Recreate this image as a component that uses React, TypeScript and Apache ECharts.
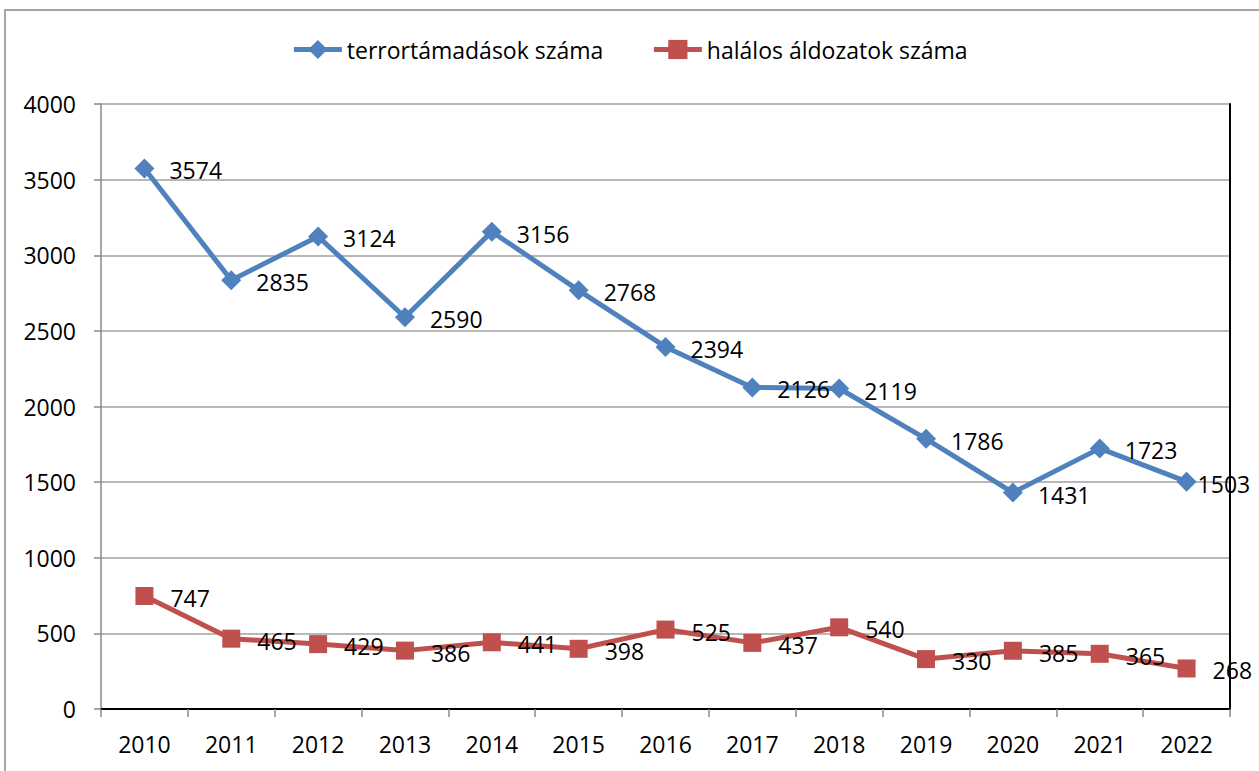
import React, { useEffect, useRef } from "react";
import * as echarts from "echarts";

const years = ["2010", "2011", "2012", "2013", "2014", "2015", "2016", "2017", "2018", "2019", "2020", "2021", "2022"];
const attacks = [3574, 2835, 3124, 2590, 3156, 2768, 2394, 2126, 2119, 1786, 1431, 1723, 1503];
const deaths = [747, 465, 429, 386, 441, 398, 525, 437, 540, 330, 385, 365, 268];
const attacksName = "terrortámadások száma";
const deathsName = "halálos áldozatok száma";

const FONT = "'Open Sans', Lato, sans-serif";
const BLUE = "#4F81BD";
const RED = "#C0504D";
const FS = 23;

export default function App() {
  const ref = useRef<HTMLDivElement>(null);
  useEffect(() => {
    if (!ref.current) return;
    const chart = echarts.init(ref.current, null, { renderer: "svg" });
    const label = {
      show: true,
      position: "right" as const,
      distance: 15,
      offset: [0, 2],
      color: "#000",
      fontFamily: FONT,
      fontSize: FS,
    };
    const attacksData = attacks.map((v, i) =>
      i === attacks.length - 1 ? { value: v, label: { distance: 1 } } : v
    );
    chart.setOption({
      animation: false,
      backgroundColor: "#fff",
      textStyle: { fontFamily: FONT },
      graphic: [
        {
          type: "rect",
          shape: { x: 5, y: 10, width: 1400, height: 900 },
          style: { fill: "none", stroke: "#A6A6A6", lineWidth: 2 },
          silent: true,
        },
      ],
      legend: {
        top: 33,
        left: "center",
        itemWidth: 48,
        itemHeight: 24,
        itemGap: 48,
        textStyle: { fontFamily: FONT, fontSize: FS, color: "#000" },
        data: [
          { name: attacksName, lineStyle: { width: 5, color: BLUE } },
          { name: deathsName, lineStyle: { width: 5, color: RED } },
        ],
      },
      grid: { left: 101, right: 29, top: 104, bottom: 62, containLabel: false },
      xAxis: [
        {
          type: "category",
          data: years,
          boundaryGap: true,
          axisLine: { show: true, lineStyle: { color: "#888", width: 1.5 } },
          axisTick: { show: true, alignWithLabel: false, length: 8, inside: false, lineStyle: { color: "#888", width: 1.5 } },
          axisLabel: { color: "#000", fontFamily: FONT, fontSize: FS, margin: 23 },
          splitLine: { show: false },
        },
        {
          type: "category",
          data: years,
          position: "top",
          boundaryGap: true,
          axisLine: { show: true, lineStyle: { color: "#000", width: 2 } },
          axisTick: { show: false },
          axisLabel: { show: false },
          splitLine: { show: false },
        },
      ],
      yAxis: [
        {
          type: "value",
          min: 0,
          max: 4000,
          interval: 500,
          axisLine: { show: true, lineStyle: { color: "#888", width: 1.5 } },
          axisTick: { show: true, length: 7, lineStyle: { color: "#888", width: 1.5 } },
          axisLabel: { color: "#000", fontFamily: FONT, fontSize: FS, margin: 25, formatter: (v: number) => String(v) },
          splitLine: { show: true, lineStyle: { color: "#A0A0A0", width: 1.5 } },
        },
        {
          type: "value",
          min: 0,
          max: 4000,
          interval: 500,
          position: "right",
          axisLine: { show: true, lineStyle: { color: "#000", width: 2 } },
          axisTick: { show: false },
          axisLabel: { show: false },
          splitLine: { show: false },
        },
      ],
      series: [
        {
          name: attacksName,
          type: "line",
          data: attacksData,
          symbol: "diamond",
          symbolSize: 20,
          lineStyle: { color: BLUE, width: 5 },
          itemStyle: { color: BLUE },
          label,
          z: 3,
        },
        {
          name: deathsName,
          type: "line",
          data: deaths,
          symbol: "rect",
          symbolSize: 18,
          lineStyle: { color: RED, width: 5 },
          itemStyle: { color: RED },
          label: { ...label, distance: 17 },
          z: 3,
        },
      ],
    });
    return () => chart.dispose();
  }, []);
  return (
    <div
      ref={ref}
      style={{ position: "fixed", left: 0, top: 0, width: 1259, height: 771 }}
    />
  );
}
